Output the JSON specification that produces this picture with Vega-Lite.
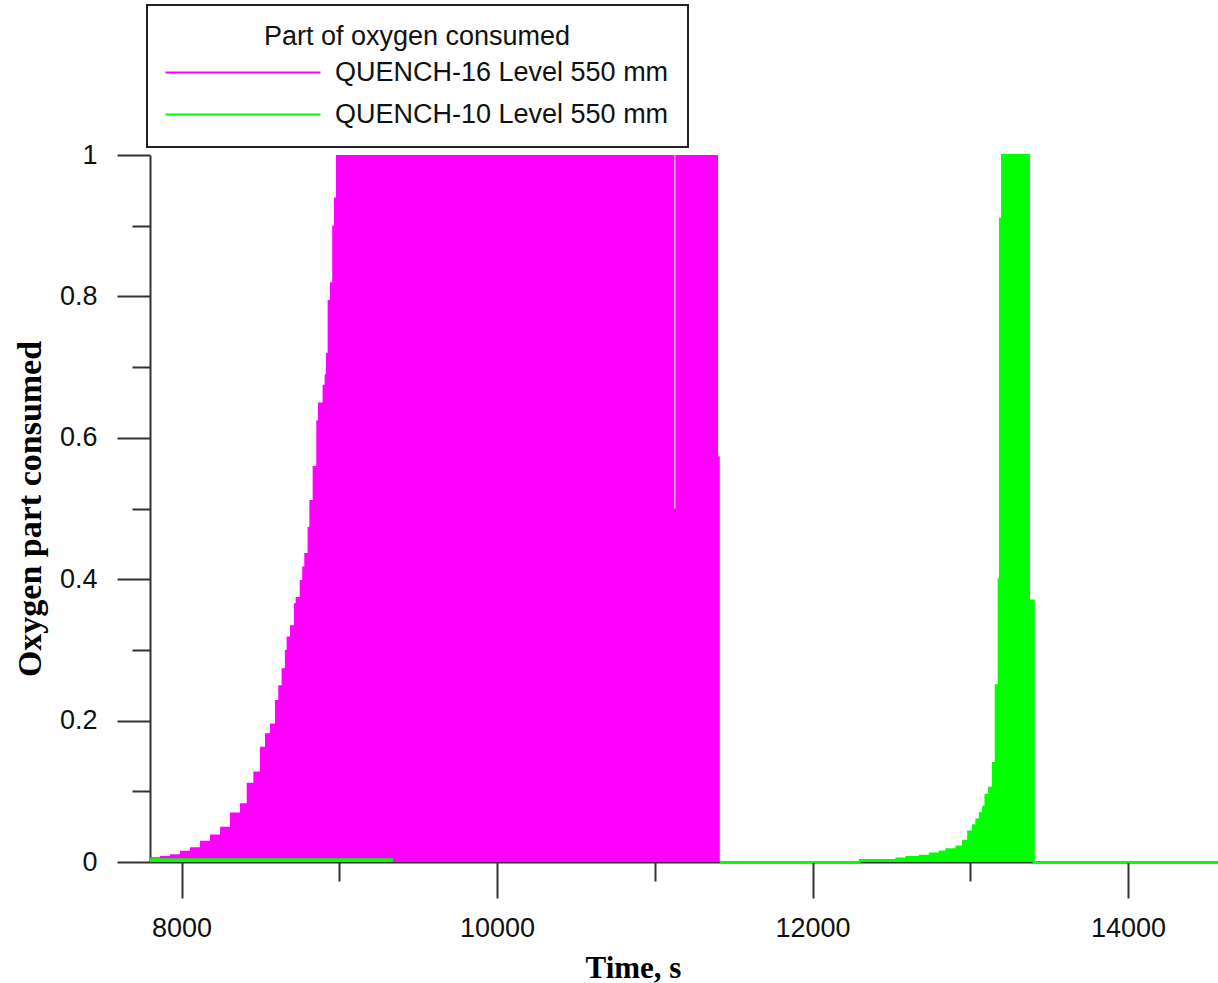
{
  "$schema": "https://vega.github.io/schema/vega-lite/v6.json",
  "width": 1068,
  "height": 707,
  "autosize": {"type": "none"},
  "padding": {"left": 150, "top": 155, "right": 0, "bottom": 121},
  "background": "white",
  "config": {"view": {"stroke": null}},
  "datasets": {
    "q16": [
      {"series": "QUENCH-16 Level 550 mm", "t": 7800, "v": 0.0066},
      {"series": "QUENCH-16 Level 550 mm", "t": 7863, "v": 0.0085},
      {"series": "QUENCH-16 Level 550 mm", "t": 7927, "v": 0.011},
      {"series": "QUENCH-16 Level 550 mm", "t": 7990, "v": 0.016},
      {"series": "QUENCH-16 Level 550 mm", "t": 8053, "v": 0.021},
      {"series": "QUENCH-16 Level 550 mm", "t": 8117, "v": 0.03},
      {"series": "QUENCH-16 Level 550 mm", "t": 8180, "v": 0.039},
      {"series": "QUENCH-16 Level 550 mm", "t": 8244, "v": 0.05},
      {"series": "QUENCH-16 Level 550 mm", "t": 8307, "v": 0.07},
      {"series": "QUENCH-16 Level 550 mm", "t": 8370, "v": 0.083},
      {"series": "QUENCH-16 Level 550 mm", "t": 8413, "v": 0.112},
      {"series": "QUENCH-16 Level 550 mm", "t": 8455, "v": 0.128},
      {"series": "QUENCH-16 Level 550 mm", "t": 8497, "v": 0.163},
      {"series": "QUENCH-16 Level 550 mm", "t": 8529, "v": 0.182},
      {"series": "QUENCH-16 Level 550 mm", "t": 8560, "v": 0.196},
      {"series": "QUENCH-16 Level 550 mm", "t": 8592, "v": 0.229},
      {"series": "QUENCH-16 Level 550 mm", "t": 8613, "v": 0.25},
      {"series": "QUENCH-16 Level 550 mm", "t": 8634, "v": 0.274},
      {"series": "QUENCH-16 Level 550 mm", "t": 8655, "v": 0.3},
      {"series": "QUENCH-16 Level 550 mm", "t": 8666, "v": 0.319},
      {"series": "QUENCH-16 Level 550 mm", "t": 8687, "v": 0.335},
      {"series": "QUENCH-16 Level 550 mm", "t": 8712, "v": 0.366},
      {"series": "QUENCH-16 Level 550 mm", "t": 8723, "v": 0.375},
      {"series": "QUENCH-16 Level 550 mm", "t": 8749, "v": 0.399},
      {"series": "QUENCH-16 Level 550 mm", "t": 8765, "v": 0.418},
      {"series": "QUENCH-16 Level 550 mm", "t": 8778, "v": 0.437},
      {"series": "QUENCH-16 Level 550 mm", "t": 8799, "v": 0.474},
      {"series": "QUENCH-16 Level 550 mm", "t": 8810, "v": 0.512},
      {"series": "QUENCH-16 Level 550 mm", "t": 8831, "v": 0.56},
      {"series": "QUENCH-16 Level 550 mm", "t": 8854, "v": 0.625},
      {"series": "QUENCH-16 Level 550 mm", "t": 8865, "v": 0.65},
      {"series": "QUENCH-16 Level 550 mm", "t": 8894, "v": 0.675},
      {"series": "QUENCH-16 Level 550 mm", "t": 8907, "v": 0.69},
      {"series": "QUENCH-16 Level 550 mm", "t": 8915, "v": 0.72},
      {"series": "QUENCH-16 Level 550 mm", "t": 8926, "v": 0.795},
      {"series": "QUENCH-16 Level 550 mm", "t": 8941, "v": 0.82},
      {"series": "QUENCH-16 Level 550 mm", "t": 8955, "v": 0.9},
      {"series": "QUENCH-16 Level 550 mm", "t": 8966, "v": 0.94},
      {"series": "QUENCH-16 Level 550 mm", "t": 8979, "v": 1},
      {"series": "QUENCH-16 Level 550 mm", "t": 11124, "v": 0.5},
      {"series": "QUENCH-16 Level 550 mm", "t": 11130, "v": 1},
      {"series": "QUENCH-16 Level 550 mm", "t": 11401, "v": 0.574},
      {"series": "QUENCH-16 Level 550 mm", "t": 11412, "v": 0}
    ],
    "q10early": [
      {"series": "QUENCH-10 Level 550 mm", "t": 7800, "v": 0.004},
      {"series": "QUENCH-10 Level 550 mm", "t": 9340, "v": 0.004}
    ],
    "q10": [
      {"series": "QUENCH-10 Level 550 mm", "t": 11412, "v": 0},
      {"series": "QUENCH-10 Level 550 mm", "t": 12299, "v": 0.003},
      {"series": "QUENCH-10 Level 550 mm", "t": 12384, "v": 0.003},
      {"series": "QUENCH-10 Level 550 mm", "t": 12532, "v": 0.005},
      {"series": "QUENCH-10 Level 550 mm", "t": 12595, "v": 0.007},
      {"series": "QUENCH-10 Level 550 mm", "t": 12679, "v": 0.009},
      {"series": "QUENCH-10 Level 550 mm", "t": 12743, "v": 0.012},
      {"series": "QUENCH-10 Level 550 mm", "t": 12806, "v": 0.015},
      {"series": "QUENCH-10 Level 550 mm", "t": 12848, "v": 0.018},
      {"series": "QUENCH-10 Level 550 mm", "t": 12912, "v": 0.022},
      {"series": "QUENCH-10 Level 550 mm", "t": 12954, "v": 0.03},
      {"series": "QUENCH-10 Level 550 mm", "t": 12986, "v": 0.043},
      {"series": "QUENCH-10 Level 550 mm", "t": 13017, "v": 0.052},
      {"series": "QUENCH-10 Level 550 mm", "t": 13038, "v": 0.06},
      {"series": "QUENCH-10 Level 550 mm", "t": 13060, "v": 0.069},
      {"series": "QUENCH-10 Level 550 mm", "t": 13081, "v": 0.078},
      {"series": "QUENCH-10 Level 550 mm", "t": 13096, "v": 0.095},
      {"series": "QUENCH-10 Level 550 mm", "t": 13119, "v": 0.105},
      {"series": "QUENCH-10 Level 550 mm", "t": 13144, "v": 0.14},
      {"series": "QUENCH-10 Level 550 mm", "t": 13161, "v": 0.25},
      {"series": "QUENCH-10 Level 550 mm", "t": 13180, "v": 0.4},
      {"series": "QUENCH-10 Level 550 mm", "t": 13188, "v": 0.91},
      {"series": "QUENCH-10 Level 550 mm", "t": 13201, "v": 1},
      {"series": "QUENCH-10 Level 550 mm", "t": 13372, "v": 0.37},
      {"series": "QUENCH-10 Level 550 mm", "t": 13402, "v": 0},
      {"series": "QUENCH-10 Level 550 mm", "t": 14570, "v": 0}
    ]
  },
  "encoding": {
    "x": {
      "field": "t",
      "type": "quantitative",
      "scale": {"domain": [7800, 14570], "nice": false, "zero": false},
      "axis": {
        "values": [8000, 9000, 10000, 11000, 12000, 13000, 14000],
        "format": "d",
        "labelExpr": "datum.value % 2000 === 0 ? datum.label : ''",
        "tickSize": {"condition": {"test": "datum.value % 2000 === 0", "value": 36}, "value": 19},
        "tickWidth": 2,
        "tickColor": "#333333",
        "domainColor": "#333333",
        "domainWidth": 2,
        "grid": false,
        "labelFont": "Liberation Sans",
        "labelFontSize": 27,
        "labelColor": "#111111",
        "labelPadding": 17,
        "labelOverlap": false,
        "title": "Time, s",
        "titleFont": "Liberation Serif",
        "titleFontWeight": "bold",
        "titleFontSize": 31,
        "titleColor": "#000000",
        "titleX": 483,
        "titleY": 106,
        "titleBaseline": "middle"
      }
    },
    "y": {
      "field": "v",
      "type": "quantitative",
      "scale": {"domain": [0, 1], "nice": false},
      "axis": {
        "values": [0, 0.1, 0.2, 0.3, 0.4, 0.5, 0.6, 0.7, 0.8, 0.9, 1],
        "labelExpr": "abs(datum.value * 5 - round(datum.value * 5)) < 0.000001 ? format(datum.value, '~g') : ''",
        "tickSize": {"condition": {"test": "abs(datum.value * 5 - round(datum.value * 5)) < 0.000001", "value": 33}, "value": 18},
        "tickWidth": 2,
        "tickColor": "#333333",
        "domainColor": "#333333",
        "domainWidth": 2,
        "grid": false,
        "labelFont": "Liberation Sans",
        "labelFontSize": 27,
        "labelColor": "#111111",
        "labelPadding": 20,
        "labelOverlap": false,
        "title": "Oxygen part consumed",
        "titleFont": "Liberation Serif",
        "titleFontWeight": "bold",
        "titleFontSize": 34,
        "titleColor": "#000000",
        "titleX": -120,
        "titleY": 353.5,
        "titleBaseline": "middle"
      }
    },
    "color": {
      "field": "series",
      "type": "nominal",
      "scale": {
        "domain": ["QUENCH-16 Level 550 mm", "QUENCH-10 Level 550 mm"],
        "range": ["#ff00ff", "#00ff00"]
      },
      "legend": {
        "orient": "none",
        "legendX": -3,
        "legendY": -150,
        "direction": "vertical",
        "title": "Part of oxygen consumed",
        "titleFont": "Liberation Sans",
        "titleFontSize": 27,
        "titleFontWeight": "normal",
        "titleColor": "#111111",
        "titleAnchor": "middle",
        "titleLimit": 700,
        "titlePadding": 8,
        "labelFont": "Liberation Sans",
        "labelFontSize": 27,
        "labelColor": "#111111",
        "labelLimit": 700,
        "labelOffset": 142,
        "symbolType": "M-1.4,0H14.1",
        "symbolSize": 400,
        "symbolStrokeWidth": 2,
        "symbolFillColor": "transparent",
        "rowPadding": 14,
        "padding": 19,
        "strokeColor": "#222222",
        "fillColor": "#ffffff",
        "encode": {
          "symbols": {"update": {"stroke": {"scale": "color", "field": "value"}, "strokeWidth": {"value": 2}}},
          "legend": {"update": {"strokeWidth": {"value": 2}}}
        }
      }
    }
  },
  "layer": [
    {
      "data": {"name": "q16"},
      "mark": {"type": "area", "interpolate": "step-after", "clip": true, "opacity": 1}
    },
    {
      "data": {"name": "q10early"},
      "mark": {"type": "area", "interpolate": "step-after", "opacity": 1, "line": {"strokeWidth": 2}}
    },
    {
      "data": {"name": "q10"},
      "mark": {"type": "area", "interpolate": "step-after", "opacity": 1, "line": {"strokeWidth": 2}}
    }
  ]
}
